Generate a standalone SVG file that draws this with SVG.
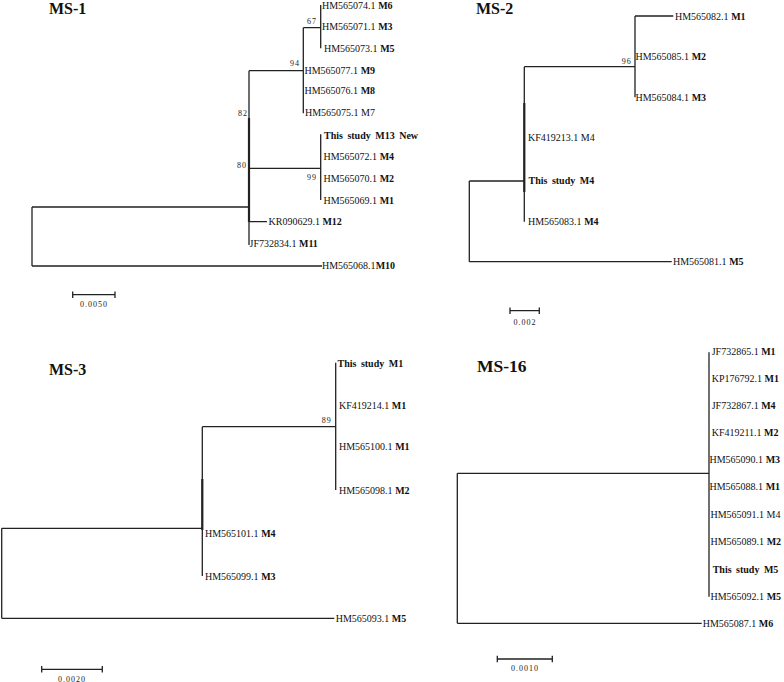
<svg xmlns="http://www.w3.org/2000/svg" width="784" height="682" viewBox="0 0 784 682">
<style>
.ln{fill:none;stroke:#222;stroke-width:1.3}
.tk{fill:none;stroke:#222;stroke-width:2.2}
text{font-family:"Liberation Serif","Times New Roman",serif;fill:#111}
.lb{font-size:10px}
.b{font-weight:bold}
.bs{font-size:8px;letter-spacing:1px;fill:#222}
.sc{font-size:8px;letter-spacing:1px;text-anchor:middle;fill:#222}
.tt{font-size:16px;font-weight:bold}
</style>
<rect width="784" height="682" fill="#fff"/>

<!-- MS-1 -->
<g id="ms1">
<text class="tt" x="49" y="14">MS-1</text>
<g id="ms1-connectors">
<path class="ln" d="M32 207V266M32 207H249M32 266H322"/>
<path class="ln" d="M249 70.7V245M249 70.7H303.3M303.3 27.7V113.3M303.3 27.7H320.7M320.7 5V48.3"/>
<path class="tk" d="M249 118V222"/>
<path class="ln" d="M249 168.3H320.7M320.7 134.3V200M249 221.7H267"/>
<path class="ln" d="M72.7 294.7H115M72.7 291.5V298M115 291.5V298"/>
</g>
<g id="ms1-labels">
<text class="lb" x="322" y="9">HM565074.1 <tspan class="b">M6</tspan></text>
<text class="lb" x="322" y="30.2">HM565071.1 <tspan class="b">M3</tspan></text>
<text class="lb" x="324" y="51.8">HM565073.1 <tspan class="b">M5</tspan></text>
<text class="lb" x="304.5" y="73.8">HM565077.1 <tspan class="b">M9</tspan></text>
<text class="lb" x="304.5" y="94.2">HM565076.1 <tspan class="b">M8</tspan></text>
<text class="lb" x="305" y="116.2">HM565075.1 M7</text>
<text class="lb b" x="324" y="138.5" word-spacing="2">This study M13 New</text>
<text class="lb" x="323.5" y="160.2">HM565072.1 <tspan class="b">M4</tspan></text>
<text class="lb" x="323.5" y="181.8">HM565070.1 <tspan class="b">M2</tspan></text>
<text class="lb" x="323.5" y="203.5">HM565069.1 <tspan class="b">M1</tspan></text>
<text class="lb" x="268.5" y="225.2">KR090629.1 <tspan class="b">M12</tspan></text>
<text class="lb" x="249.5" y="246.8">JF732834.1 <tspan class="b">M11</tspan></text>
<text class="lb" x="322" y="269.2">HM565068.1<tspan class="b">M10</tspan></text>
<text class="bs" x="307" y="23.5">67</text>
<text class="bs" x="290" y="66">94</text>
<text class="bs" x="238" y="115.5">82</text>
<text class="bs" x="237" y="167.5">80</text>
<text class="bs" x="307" y="179.5">99</text>
<text class="sc" x="94" y="307">0.0050</text>
</g>
</g>

<!-- MS-2 -->
<g id="ms2">
<text class="tt" x="476" y="14">MS-2</text>
<g id="ms2-connectors">
<path class="ln" d="M469.3 181V261.7M469.3 181H524.3M469.3 261.7H671.7"/>
<path class="ln" d="M524.3 66.7V221.7M524.3 66.7H635M635 16V97.3M635 16H673.3"/>
<path class="tk" d="M524.3 103V192"/>
<path class="ln" d="M510 310.7H539.3M510 307.5V314M539.3 307.5V314"/>
</g>
<g id="ms2-labels">
<text class="lb" x="675" y="19.5">HM565082.1 <tspan class="b">M1</tspan></text>
<text class="lb" x="635.5" y="60.2">HM565085.1 <tspan class="b">M2</tspan></text>
<text class="lb" x="635.5" y="101.2">HM565084.1 <tspan class="b">M3</tspan></text>
<text class="lb" x="528" y="141.2">KF419213.1 M4</text>
<text class="lb b" x="528.5" y="183.5" word-spacing="2">This study M4</text>
<text class="lb" x="528" y="224.5">HM565083.1 <tspan class="b">M4</tspan></text>
<text class="lb" x="673" y="265.2">HM565081.1 <tspan class="b">M5</tspan></text>
<text class="bs" x="621.7" y="64">96</text>
<text class="sc" x="525" y="325">0.002</text>
</g>
</g>

<!-- MS-3 -->
<g id="ms3">
<text class="tt" x="49" y="375">MS-3</text>
<g id="ms3-connectors">
<path class="ln" d="M1.7 528.3V618.3M1.7 528.3H202.3M1.7 618.3H334.3"/>
<path class="ln" d="M202.3 426.7V576M202.3 426.7H335.7M335.7 362.7V490"/>
<path class="tk" d="M202.3 479V530"/>
<path class="ln" d="M41.7 669.3H102.3M41.7 666V672.5M102.3 666V672.5"/>
</g>
<g id="ms3-labels">
<text class="lb b" x="337.5" y="366.8" word-spacing="2">This study M1</text>
<text class="lb" x="339" y="408.5">KF419214.1 <tspan class="b">M1</tspan></text>
<text class="lb" x="339" y="450.2">HM565100.1 <tspan class="b">M1</tspan></text>
<text class="lb" x="339" y="493.5">HM565098.1 <tspan class="b">M2</tspan></text>
<text class="lb" x="205" y="536.8">HM565101.1 <tspan class="b">M4</tspan></text>
<text class="lb" x="205" y="579.5">HM565099.1 <tspan class="b">M3</tspan></text>
<text class="lb" x="335.7" y="621.8">HM565093.1 <tspan class="b">M5</tspan></text>
<text class="bs" x="321.7" y="423">89</text>
<text class="sc" x="72" y="681.5">0.0020</text>
</g>
</g>

<!-- MS-16 -->
<g id="ms16">
<text class="tt" x="477" y="372" style="font-size:17.5px">MS-16</text>
<g id="ms16-connectors">
<path class="ln" d="M457.3 473.3V623.3M457.3 473.3H709M457.3 623.3H701.7"/>
<path class="ln" d="M709 352.3V596.7"/>
<path class="ln" d="M497.3 659H552.3M497.3 655.8V662.2M552.3 655.8V662.2"/>
</g>
<g id="ms16-labels">
<text class="lb" x="711.7" y="354.5">JF732865.1 <tspan class="b">M1</tspan></text>
<text class="lb" x="711.7" y="381.8">KP176792.1 <tspan class="b">M1</tspan></text>
<text class="lb" x="711.7" y="408.5">JF732867.1 <tspan class="b">M4</tspan></text>
<text class="lb" x="711.7" y="435.8">KF419211.1 <tspan class="b">M2</tspan></text>
<text class="lb" x="709.5" y="462.8">HM565090.1 <tspan class="b">M3</tspan></text>
<text class="lb" x="709.5" y="490.2">HM565088.1 <tspan class="b">M1</tspan></text>
<text class="lb" x="710.5" y="517.8">HM565091.1 M4</text>
<text class="lb" x="710.5" y="545.2">HM565089.1 <tspan class="b">M2</tspan></text>
<text class="lb b" x="712.7" y="572.8" word-spacing="2">This study M5</text>
<text class="lb" x="710.5" y="599.5">HM565092.1 <tspan class="b">M5</tspan></text>
<text class="lb" x="702.7" y="626.8">HM565087.1 <tspan class="b">M6</tspan></text>
<text class="sc" x="525" y="671">0.0010</text>
</g>
</g>
</svg>
